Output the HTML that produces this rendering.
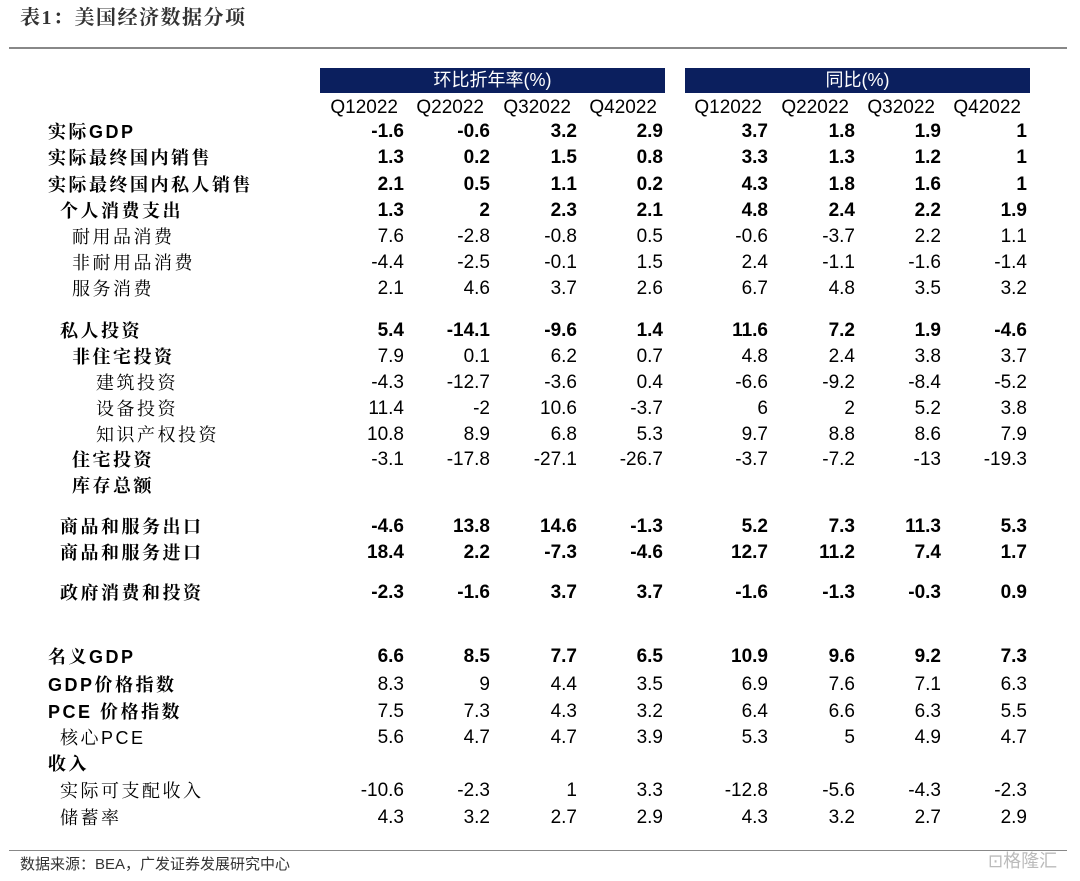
<!DOCTYPE html>
<html><head><meta charset="utf-8">
<style>
body{margin:0;width:1080px;height:881px;background:#fff;position:relative;overflow:hidden;font-family:"Liberation Sans","Noto Sans CJK SC",sans-serif;color:#000}
.a{position:absolute;white-space:nowrap;line-height:1}
.lab{font-family:"Liberation Sans","Noto Serif CJK SC",serif;font-size:18px;letter-spacing:2.5px}
.num{font-size:19px;text-align:right;width:80px}
.b{font-weight:bold}
</style></head><body>
<div class="a" style="left:20px;top:8px;font-size:20px;letter-spacing:1.5px;font-family:'Liberation Serif','Noto Serif CJK SC',serif;font-weight:bold;color:#333">表1：美国经济数据分项</div>
<div class="a" style="left:9px;top:47px;width:1058px;height:2px;background:#888"></div>
<div class="a" style="left:320px;top:68px;width:345px;height:25px;background:#0b1f5e;color:#fff;font-size:18px;text-align:center;line-height:25px">环比折年率(%)</div>
<div class="a" style="left:685px;top:68px;width:345px;height:25px;background:#0b1f5e;color:#fff;font-size:18px;text-align:center;line-height:25px">同比(%)</div>
<div class="a" style="left:9px;top:850px;width:1058px;height:1px;background:#888"></div>
<div class="a" style="left:20px;top:857px;font-size:15px;color:#333">数据来源：BEA，广发证券发展研究中心</div>
<div class="a" style="left:988px;top:852px;font-size:18px;color:#bbb">⊡格隆汇</div>
<div id="t"></div>
<script>
const quarters=["Q12022","Q22022","Q32022","Q42022"];
const labels=["实际GDP","实际最终国内销售","实际最终国内私人销售","个人消费支出","耐用品消费","非耐用品消费","服务消费","私人投资","非住宅投资","建筑投资","设备投资","知识产权投资","住宅投资","库存总额","商品和服务出口","商品和服务进口","政府消费和投资","名义GDP","GDP价格指数","PCE 价格指数","核心PCE","收入","实际可支配收入","储蓄率"];
const indent=[48,48,48,60,72,72,72,60,72,96,96,96,72,72,60,60,60,48,48,48,60,48,60,60];
const rowY=[132,158,185,211,237,263,289,331,357,383,409,435,460,486,527,553,593,657,685,712,738,764,791,818];
const boldRow=[1,1,1,1,0,0,0,1,0,0,0,0,0,0,1,1,1,1,0,0,0,0,0,0];
const boldLabel=[1,1,1,1,0,0,0,1,1,0,0,0,1,1,1,1,1,1,1,1,0,1,0,0];
const qoq=[["-1.6","-0.6","3.2","2.9"],["1.3","0.2","1.5","0.8"],["2.1","0.5","1.1","0.2"],["1.3","2","2.3","2.1"],["7.6","-2.8","-0.8","0.5"],["-4.4","-2.5","-0.1","1.5"],["2.1","4.6","3.7","2.6"],["5.4","-14.1","-9.6","1.4"],["7.9","0.1","6.2","0.7"],["-4.3","-12.7","-3.6","0.4"],["11.4","-2","10.6","-3.7"],["10.8","8.9","6.8","5.3"],["-3.1","-17.8","-27.1","-26.7"],[],["-4.6","13.8","14.6","-1.3"],["18.4","2.2","-7.3","-4.6"],["-2.3","-1.6","3.7","3.7"],["6.6","8.5","7.7","6.5"],["8.3","9","4.4","3.5"],["7.5","7.3","4.3","3.2"],["5.6","4.7","4.7","3.9"],[],["-10.6","-2.3","1","3.3"],["4.3","3.2","2.7","2.9"]];
const yoy=[["3.7","1.8","1.9","1"],["3.3","1.3","1.2","1"],["4.3","1.8","1.6","1"],["4.8","2.4","2.2","1.9"],["-0.6","-3.7","2.2","1.1"],["2.4","-1.1","-1.6","-1.4"],["6.7","4.8","3.5","3.2"],["11.6","7.2","1.9","-4.6"],["4.8","2.4","3.8","3.7"],["-6.6","-9.2","-8.4","-5.2"],["6","2","5.2","3.8"],["9.7","8.8","8.6","7.9"],["-3.7","-7.2","-13","-19.3"],[],["5.2","7.3","11.3","5.3"],["12.7","11.2","7.4","1.7"],["-1.6","-1.3","-0.3","0.9"],["10.9","9.6","9.2","7.3"],["6.9","7.6","7.1","6.3"],["6.4","6.6","6.3","5.5"],["5.3","5","4.9","4.7"],[],["-12.8","-5.6","-4.3","-2.3"],["4.3","3.2","2.7","2.9"]];
const colRight=[404,490,577,663,768,855,941,1027];
const t=document.getElementById('t');
function mk(txt,cls,x,y,w){const d=document.createElement('div');d.className='a '+cls;d.textContent=txt;d.style.left=x+'px';d.style.top=(y-10)+'px';if(w)d.style.width=w+'px';t.appendChild(d);return d;}
quarters.concat(quarters).forEach((q,i)=>{const d=mk(q,'num',colRight[i]-94,108,88);

});
labels.forEach((l,r)=>{const d=mk(l,'lab'+(boldLabel[r]?' b':''),indent[r],rowY[r]+1);


const vals=(qoq[r]||[]).concat(yoy[r]||[]);
vals.forEach((v,c)=>{const n=mk(v,'num'+(boldRow[r]?' b':''),colRight[c]-80,rowY[r],80);

});});
</script>
</body></html>
